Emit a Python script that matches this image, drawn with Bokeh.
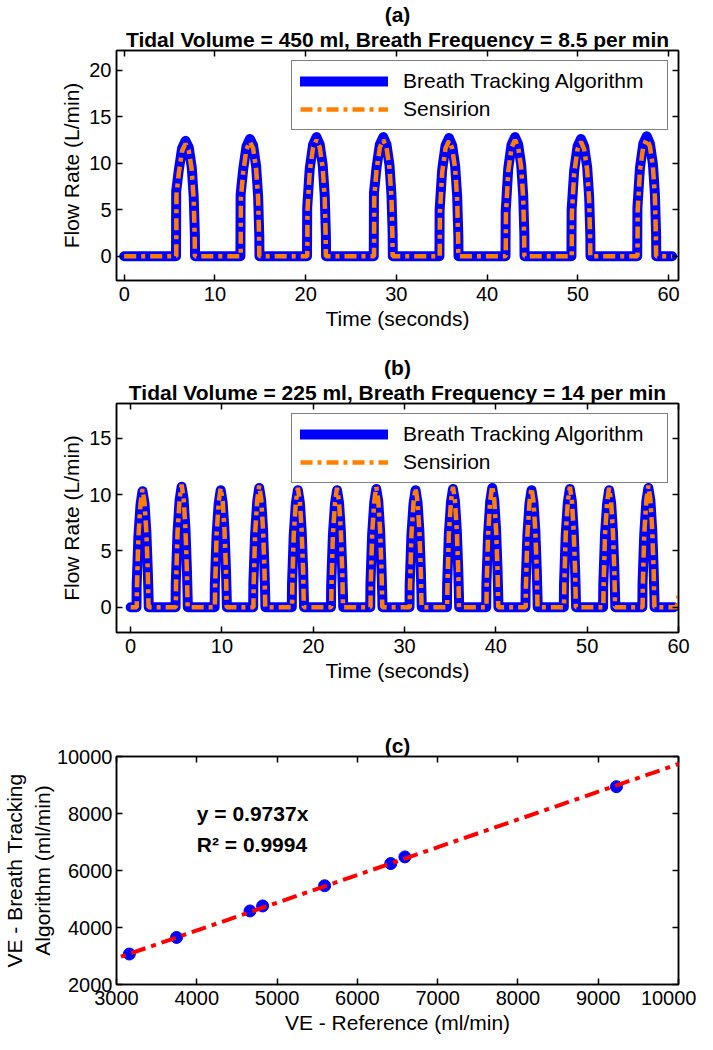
from bokeh.plotting import figure
from bokeh.models import (LinearAxis, Title, Legend, LegendItem, Label, Range1d,
                          FixedTicker, Slope, CustomJSTickFormatter)
from bokeh.layouts import column
from bokeh.embed import file_html
from bokeh.resources import INLINE

FONT = "Liberation Sans"
BLUE = "#0000FF"
ORANGE = "#FF8000"
RED = "#FF0000"
TICK_FS = "20px"
LABEL_FS = "21px"
TITLE_FS = "21px"

# ---------------- data: panel (a) ----------------
a_title = "Tidal Volume = 450 ml, Breath Frequency = 8.5 per min"
a_blue_t = [0.0,
    5.71, 5.73, 6.01, 6.38, 6.76, 7.11, 7.44, 7.66, 7.79, 7.81,
    12.81, 12.83, 13.11, 13.48, 13.86, 14.21, 14.54, 14.76, 14.89, 14.91,
    20.15, 20.17, 20.45, 20.82, 21.20, 21.55, 21.88, 22.10, 22.23, 22.25,
    27.51, 27.53, 27.81, 28.18, 28.56, 28.91, 29.24, 29.46, 29.59, 29.61,
    34.75, 34.77, 35.05, 35.42, 35.80, 36.15, 36.48, 36.70, 36.83, 36.85,
    42.03, 42.05, 42.33, 42.70, 43.08, 43.43, 43.76, 43.98, 44.11, 44.13,
    49.30, 49.32, 49.60, 49.97, 50.35, 50.70, 51.03, 51.25, 51.38, 51.40,
    56.55, 56.57, 56.85, 57.22, 57.60, 57.95, 58.28, 58.50, 58.63, 58.65,
    60.40]
a_blue_flow = [0.0,
    0, 7.0, 9.2, 11.6, 12.4, 11.7, 9.6, 6.4, 2.3, 0,
    0, 6.6, 9.3, 11.8, 12.6, 11.9, 9.7, 6.5, 2.2, 0,
    0, 5.2, 9.4, 12.0, 12.8, 12.0, 9.8, 6.6, 2.3, 0,
    0, 6.8, 9.5, 12.0, 12.8, 12.0, 9.8, 6.6, 2.4, 0,
    0, 5.0, 9.3, 11.9, 12.7, 11.9, 9.7, 6.5, 2.2, 0,
    0, 4.8, 9.4, 12.0, 12.8, 12.0, 9.8, 6.6, 2.3, 0,
    0, 5.0, 9.2, 11.8, 12.6, 11.8, 9.6, 6.4, 2.2, 0,
    0, 5.2, 9.5, 12.1, 12.9, 12.1, 9.9, 6.7, 2.4, 0,
    0.0]
a_sens_t = [0.0,
    5.74, 5.76, 6.01, 6.38, 6.76, 7.11, 7.44, 7.66, 7.77, 7.79,
    12.84, 12.86, 13.11, 13.48, 13.86, 14.21, 14.54, 14.76, 14.87, 14.89,
    20.18, 20.20, 20.45, 20.82, 21.20, 21.55, 21.88, 22.10, 22.21, 22.23,
    27.54, 27.56, 27.81, 28.18, 28.56, 28.91, 29.24, 29.46, 29.57, 29.59,
    34.78, 34.80, 35.05, 35.42, 35.80, 36.15, 36.48, 36.70, 36.81, 36.83,
    42.06, 42.08, 42.33, 42.70, 43.08, 43.43, 43.76, 43.98, 44.09, 44.11,
    49.33, 49.35, 49.60, 49.97, 50.35, 50.70, 51.03, 51.25, 51.36, 51.38,
    56.58, 56.60, 56.85, 57.22, 57.60, 57.95, 58.28, 58.50, 58.61, 58.63,
    60.40]
a_sens_flow = [0.0,
    0, 6.6, 8.9, 11.3, 12.1, 11.4, 9.3, 6.1, 2.0, 0,
    0, 6.2, 9.0, 11.5, 12.3, 11.6, 9.4, 6.2, 1.9, 0,
    0, 4.9, 9.1, 11.7, 12.5, 11.7, 9.5, 6.3, 2.0, 0,
    0, 6.4, 9.2, 11.7, 12.5, 11.7, 9.5, 6.3, 2.1, 0,
    0, 4.7, 9.0, 11.6, 12.4, 11.6, 9.4, 6.2, 1.9, 0,
    0, 4.5, 9.1, 11.7, 12.5, 11.7, 9.5, 6.3, 2.0, 0,
    0, 4.7, 8.9, 11.5, 12.3, 11.5, 9.3, 6.1, 1.9, 0,
    0, 4.9, 9.2, 11.8, 12.6, 11.8, 9.6, 6.4, 2.1, 0,
    0.0]

# ---------------- data: panel (b) ----------------
b_title = "Tidal Volume = 225 ml, Breath Frequency = 14 per min"
b_blue_t = [0.0,
    0.64, 0.66, 0.85, 1.08, 1.30, 1.52, 1.72, 1.88, 1.96, 1.98,
    4.92, 4.94, 5.13, 5.36, 5.58, 5.80, 6.00, 6.16, 6.24, 6.26,
    9.20, 9.22, 9.41, 9.64, 9.86, 10.08, 10.28, 10.44, 10.52, 10.54,
    13.42, 13.44, 13.63, 13.86, 14.08, 14.30, 14.50, 14.66, 14.74, 14.76,
    17.65, 17.67, 17.86, 18.09, 18.31, 18.53, 18.73, 18.89, 18.97, 18.99,
    21.94, 21.96, 22.15, 22.38, 22.60, 22.82, 23.02, 23.18, 23.26, 23.28,
    26.24, 26.26, 26.45, 26.68, 26.90, 27.12, 27.32, 27.48, 27.56, 27.58,
    30.54, 30.56, 30.75, 30.98, 31.20, 31.42, 31.62, 31.78, 31.86, 31.88,
    34.64, 34.66, 34.85, 35.08, 35.30, 35.52, 35.72, 35.88, 35.96, 35.98,
    38.94, 38.96, 39.15, 39.38, 39.60, 39.82, 40.02, 40.18, 40.26, 40.28,
    43.24, 43.26, 43.45, 43.68, 43.90, 44.12, 44.32, 44.48, 44.56, 44.58,
    47.44, 47.46, 47.65, 47.88, 48.10, 48.32, 48.52, 48.68, 48.76, 48.78,
    51.74, 51.76, 51.95, 52.18, 52.40, 52.62, 52.82, 52.98, 53.06, 53.08,
    56.04, 56.06, 56.25, 56.48, 56.70, 56.92, 57.12, 57.28, 57.36, 57.38,
    59.50]
b_blue_flow = [0.0,
    0, 2.0, 6.3, 9.1, 10.3, 9.2, 6.7, 3.2, 0.9, 0,
    0, 2.1, 6.6, 9.5, 10.7, 9.6, 7.0, 3.4, 0.9, 0,
    0, 2.0, 6.4, 9.2, 10.4, 9.3, 6.8, 3.3, 0.9, 0,
    0, 2.1, 6.5, 9.4, 10.6, 9.5, 6.9, 3.3, 0.9, 0,
    0, 2.0, 6.4, 9.2, 10.4, 9.3, 6.8, 3.3, 0.9, 0,
    0, 1.9, 6.4, 9.2, 10.4, 9.3, 6.8, 3.2, 0.8, 0,
    0, 2.0, 6.5, 9.3, 10.5, 9.4, 6.8, 3.3, 0.9, 0,
    0, 2.0, 6.4, 9.2, 10.4, 9.3, 6.8, 3.3, 0.9, 0,
    0, 2.0, 6.5, 9.3, 10.5, 9.4, 6.8, 3.3, 0.9, 0,
    0, 2.1, 6.5, 9.4, 10.6, 9.5, 6.9, 3.4, 0.9, 0,
    0, 2.0, 6.4, 9.2, 10.4, 9.3, 6.8, 3.3, 0.9, 0,
    0, 2.0, 6.5, 9.3, 10.5, 9.4, 6.8, 3.3, 0.9, 0,
    0, 1.9, 6.4, 9.2, 10.4, 9.3, 6.7, 3.2, 0.8, 0,
    0, 2.1, 6.5, 9.4, 10.6, 9.5, 6.9, 3.4, 0.9, 0,
    0.0]
b_sens_t = [0.0,
    0.67, 0.69, 0.85, 1.08, 1.30, 1.52, 1.72, 1.88, 1.94, 1.96,
    4.95, 4.97, 5.13, 5.36, 5.58, 5.80, 6.00, 6.16, 6.22, 6.24,
    9.23, 9.25, 9.41, 9.64, 9.86, 10.08, 10.28, 10.44, 10.50, 10.52,
    13.45, 13.47, 13.63, 13.86, 14.08, 14.30, 14.50, 14.66, 14.72, 14.74,
    17.68, 17.70, 17.86, 18.09, 18.31, 18.53, 18.73, 18.89, 18.95, 18.97,
    21.97, 21.99, 22.15, 22.38, 22.60, 22.82, 23.02, 23.18, 23.24, 23.26,
    26.27, 26.29, 26.45, 26.68, 26.90, 27.12, 27.32, 27.48, 27.54, 27.56,
    30.57, 30.59, 30.75, 30.98, 31.20, 31.42, 31.62, 31.78, 31.84, 31.86,
    34.67, 34.69, 34.85, 35.08, 35.30, 35.52, 35.72, 35.88, 35.94, 35.96,
    38.97, 38.99, 39.15, 39.38, 39.60, 39.82, 40.02, 40.18, 40.24, 40.26,
    43.27, 43.29, 43.45, 43.68, 43.90, 44.12, 44.32, 44.48, 44.54, 44.56,
    47.47, 47.49, 47.65, 47.88, 48.10, 48.32, 48.52, 48.68, 48.74, 48.76,
    51.77, 51.79, 51.95, 52.18, 52.40, 52.62, 52.82, 52.98, 53.04, 53.06,
    56.07, 56.09, 56.25, 56.48, 56.70, 56.92, 57.12, 57.28, 57.34, 57.36,
    59.80, 60.00]
b_sens_flow = [0.0,
    0, 1.8, 6.3, 9.2, 10.5, 9.3, 6.7, 3.1, 0.8, 0,
    0, 1.9, 6.6, 9.6, 10.9, 9.7, 7.0, 3.3, 0.8, 0,
    0, 1.8, 6.4, 9.3, 10.6, 9.4, 6.8, 3.2, 0.8, 0,
    0, 1.9, 6.5, 9.5, 10.8, 9.6, 6.9, 3.2, 0.8, 0,
    0, 1.8, 6.4, 9.3, 10.6, 9.4, 6.8, 3.2, 0.8, 0,
    0, 1.7, 6.4, 9.3, 10.6, 9.4, 6.8, 3.1, 0.7, 0,
    0, 1.8, 6.5, 9.4, 10.7, 9.5, 6.8, 3.2, 0.8, 0,
    0, 1.8, 6.4, 9.3, 10.6, 9.4, 6.8, 3.2, 0.8, 0,
    0, 1.8, 6.5, 9.4, 10.7, 9.5, 6.8, 3.2, 0.8, 0,
    0, 1.9, 6.5, 9.5, 10.8, 9.6, 6.9, 3.3, 0.8, 0,
    0, 1.8, 6.4, 9.3, 10.6, 9.4, 6.8, 3.2, 0.8, 0,
    0, 1.8, 6.5, 9.4, 10.7, 9.5, 6.8, 3.2, 0.8, 0,
    0, 1.7, 6.4, 9.3, 10.6, 9.4, 6.7, 3.1, 0.7, 0,
    0, 1.9, 6.5, 9.5, 10.8, 9.6, 6.9, 3.3, 0.8, 0,
    0.0, 1.0]

# ---------------- data: panel (c) ----------------
ve_reference = [3160, 3748, 4663, 4820, 5592, 6416, 6592, 9227]
ve_algorithm = [3070, 3651, 4581, 4756, 5465, 6244, 6477, 8942]
fit_slope = 0.9737
fit_text = "y = 0.9737x"
r2_text = "R\u00b2 = 0.9994"

time_ticks = [0, 10, 20, 30, 40, 50, 60]
a_flow_ticks = [0, 5, 10, 15, 20]
b_flow_ticks = [0, 5, 10, 15]
c_x_ticks = [3000, 4000, 5000, 6000, 7000, 8000, 9000, 10000]
c_y_ticks = [2000, 4000, 6000, 8000, 10000]
series_names = ["Breath Tracking Algorithm", "Sensirion"]


def make_fig(frame_h, xr, yr, xticks, yticks, top, bottom):
    p = figure(frame_width=562, frame_height=frame_h,
               x_range=Range1d(*xr), y_range=Range1d(*yr),
               output_backend="svg", toolbar_location=None,
               min_border_left=110, min_border_right=18,
               min_border_top=top, min_border_bottom=bottom)
    ax_bottom = p.below[0]
    ax_left = p.left[0]
    ax_top = LinearAxis()
    ax_right = LinearAxis()
    p.add_layout(ax_top, "above")
    p.add_layout(ax_right, "right")
    for ax in (ax_bottom, ax_top):
        ax.ticker = FixedTicker(ticks=xticks)
    for ax in (ax_left, ax_right):
        ax.ticker = FixedTicker(ticks=yticks)
    p.xgrid.visible = False
    p.ygrid.visible = False
    p.outline_line_color = "black"
    p.outline_line_width = 1.5
    p.background_fill_color = "white"
    p.border_fill_color = "white"
    for ax in (ax_bottom, ax_left, ax_top, ax_right):
        ax.axis_line_width = 1.5
        ax.axis_line_color = "black"
        ax.major_tick_in = 6
        ax.major_tick_out = 0
        ax.major_tick_line_width = 1.5
        ax.major_tick_line_color = "black"
        ax.minor_tick_line_color = None
        ax.major_label_text_font = FONT
        ax.major_label_text_font_size = TICK_FS
        ax.major_label_text_color = "black"
        ax.axis_label_text_font = FONT
        ax.axis_label_text_font_size = LABEL_FS
        ax.axis_label_text_font_style = "normal"
        ax.axis_label_text_color = "black"
    ax_bottom.major_label_standoff = 6
    ax_bottom.axis_label_standoff = 3
    ax_left.major_label_standoff = 5
    ax_left.axis_label_standoff = 3
    for ax in (ax_top, ax_right):
        ax.formatter = CustomJSTickFormatter(code="return ''")
        ax.major_label_text_font_size = "0px"
        ax.major_label_standoff = 0
    return p, ax_bottom, ax_left


def add_titles(p, sub, tag):
    if sub is not None:
        p.add_layout(Title(text=sub, align="center", text_font=FONT,
                           text_font_size=TITLE_FS, text_font_style="bold",
                           text_color="black", standoff=0), "above")
    p.add_layout(Title(text=tag, align="center", text_font=FONT,
                       text_font_size=TITLE_FS, text_font_style="bold",
                       text_color="black", standoff=0), "above")


def add_waves(p, axb, axl, bt, bf, st, sf):
    rb = p.line(bt, bf, line_color=BLUE, line_width=10, line_join="round", line_cap="round")
    ro = p.line(st, sf, line_color=ORANGE, line_width=4.5, line_dash="12 5 4 5")
    leg = Legend(items=[LegendItem(label=series_names[0], renderers=[rb]),
                        LegendItem(label=series_names[1], renderers=[ro])],
                 location="top_right", margin=10, padding=8, spacing=4,
                 glyph_width=88, glyph_height=22, label_height=22,
                 label_width=256, label_standoff=15,
                 label_text_font=FONT, label_text_font_size=LABEL_FS,
                 label_text_color="black",
                 border_line_color="black", border_line_width=1.5,
                 background_fill_color="white", background_fill_alpha=1.0)
    p.add_layout(leg)
    axb.axis_label = "Time (seconds)"
    axl.axis_label = "Flow Rate (L/min)"


# panel (a)
pa, pa_b, pa_l = make_fig(230, (-0.85, 61.1), (-2.6, 22.1), time_ticks, a_flow_ticks, 47, 60)
add_waves(pa, pa_b, pa_l, a_blue_t, a_blue_flow, a_sens_t, a_sens_flow)
add_titles(pa, a_title, "(a)")

# panel (b)
pb, pb_b, pb_l = make_fig(229, (-1.55, 60.0), (-2.25, 18.1), time_ticks, b_flow_ticks, 63, 68)
add_waves(pb, pb_b, pb_l, b_blue_t, b_blue_flow, b_sens_t, b_sens_flow)
add_titles(pb, b_title, "(b)")

# panel (c)
pc, pc_b, pc_l = make_fig(228, (3000, 10000), (2000, 10000), c_x_ticks, c_y_ticks, 56, 56)
pc.add_layout(Slope(gradient=fit_slope, y_intercept=0, line_color=RED,
                    line_width=4, line_dash="15 6 5 6"))
pc.scatter(ve_reference, ve_algorithm, size=12, marker="circle",
           fill_color=BLUE, line_color=BLUE)
pc.add_layout(Label(x=4000, y=8000, text=fit_text, text_font=FONT,
                    text_font_size=TITLE_FS, text_font_style="bold",
                    text_baseline="middle", text_color="black"))
pc.add_layout(Label(x=4000, y=6900, text=r2_text, text_font=FONT,
                    text_font_size=TITLE_FS, text_font_style="bold",
                    text_baseline="middle", text_color="black"))
pc_b.axis_label = "VE - Reference (ml/min)"
pc_l.axis_label = "VE - Breath Tracking\nAlgorithm (ml/min)"
pc_l.major_label_standoff = 4
pc_l.axis_label_standoff = 0
add_titles(pc, None, "(c)")

layout = column(pa, pb, pc)
open("out.html", "w").write(file_html(layout, INLINE))
